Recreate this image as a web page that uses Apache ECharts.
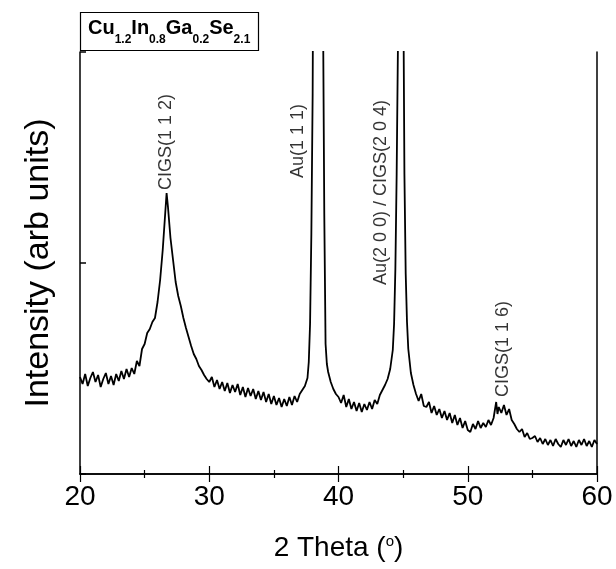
<!DOCTYPE html>
<html>
<head>
<meta charset="utf-8">
<script src="https://cdn.jsdelivr.net/npm/echarts@6/dist/echarts.min.js"></script>
<style>html,body{margin:0;padding:0;background:#fff}#c{width:616px;height:569px}</style>
</head>
<body>
<div id="c"></div>
<script>
// 2 Theta (degrees)
var twoTheta = [
20.0,20.2,20.4,20.6,20.8,21.0,21.2,21.4,21.6,21.8,22.0,22.2,22.4,22.6,22.8,23.0,23.2,23.4,23.6,23.8,
24.0,24.2,24.4,24.6,24.8,25.0,25.2,25.4,25.6,25.8,26.0,26.2,26.4,26.6,26.7,26.8,27.0,27.2,27.4,27.6,
27.8,28.0,28.2,28.4,28.6,28.8,29.0,29.2,29.4,29.6,29.8,30.0,30.2,30.4,30.6,30.8,31.0,31.2,31.4,31.6,
31.8,32.0,32.2,32.4,32.6,32.8,33.0,33.2,33.4,33.6,33.8,34.0,34.2,34.4,34.6,34.8,35.0,35.2,35.4,35.6,
35.8,36.0,36.2,36.4,36.6,36.8,37.0,37.2,37.4,37.6,37.7,37.8,37.9,38.0,38.1,38.2,38.3,38.4,38.5,38.6,
38.7,38.8,38.9,39.0,39.1,39.2,39.4,39.6,39.8,40.0,40.2,40.4,40.6,40.8,41.0,41.2,41.4,41.6,41.8,42.0,
42.2,42.4,42.6,42.8,43.0,43.2,43.4,43.6,43.8,44.0,44.2,44.3,44.4,44.5,44.6,44.7,44.8,44.9,45.0,45.1,
45.2,45.3,45.4,45.6,45.8,46.0,46.2,46.4,46.6,46.8,47.0,47.2,47.4,47.6,47.8,48.0,48.2,48.4,48.6,48.8,
49.0,49.2,49.4,49.6,49.8,50.0,50.2,50.4,50.6,50.8,51.0,51.2,51.4,51.6,51.8,52.0,52.2,52.3,52.4,52.6,
52.8,53.0,53.2,53.4,53.6,53.8,54.0,54.2,54.4,54.6,54.8,55.0,55.2,55.4,55.6,55.8,56.0,56.2,56.4,56.6,
56.8,57.0,57.2,57.4,57.6,57.8,58.0,58.2,58.4,58.6,58.8,59.0,59.2,59.4,59.6,59.8,60.0
];
// Intensity (arb units)
var intensity = [
97,90,100,88,96,102,92,99,87,95,101,90,98,89,100,93,103,95,105,97,
106,100,113,108,125,130,141,145,152,156,172,194,224,262,281,268,236,214,192,178,
168,156,146,137,128,120,115,108,104,99,95,92,97,87,94,85,92,83,91,81,
89,82,90,79,87,77,86,78,85,75,83,74,82,72,80,70,78,69,76,67,
75,68,77,69,78,72,80,84,88,96,112,150,240,380,700,900,1000,1000,950,850,
650,470,260,130,110,102,92,85,80,77,71,79,67,75,65,72,63,71,62,70,
64,72,65,74,70,79,84,89,95,105,124,150,205,300,430,720,1000,900,520,300,
200,152,125,101,89,80,73,80,68,67,72,61,68,59,65,56,63,54,61,51,
59,49,56,46,53,44,42,50,45,53,46,51,47,54,49,56,72,60,67,61,
69,59,65,54,50,45,42,45,37,41,35,36,38,32,36,30,35,29,34,28,
35,30,27,34,29,35,28,33,27,34,29,35,28,33,27,34,30
];
// Peak annotations: position (2 Theta, intensity at text base) and text
var peakLabelX = [26.67, 36.9, 43.26, 52.7];
var peakLabelY = [284, 296, 189, 77];
var peakLabelText = ['CIGS(1 1 2)', 'Au(1 1 1)', 'Au(2 0 0) / CIGS(2 0 4)', 'CIGS(1 1 6)'];
var xTicks = [20, 30, 40, 50, 60];

var lineData = twoTheta.map(function (x, i) { return [x, intensity[i]]; });
var labelData = peakLabelX.map(function (x, i) { return { value: [x, peakLabelY[i]], name: peakLabelText[i] }; });

var chart = echarts.init(document.getElementById('c'), null, { renderer: 'canvas' });
var FONT = 'Liberation Sans';
var axisCommon = {
  min: xTicks[0], max: xTicks[xTicks.length - 1], interval: 10,
  axisLine: { show: true, lineStyle: { color: '#000', width: 1.5 } },
  axisTick: { show: true, inside: true, length: 8, lineStyle: { color: '#000', width: 1.2 } },
  minorTick: { show: true, splitNumber: 2, length: 4, lineStyle: { color: '#000', width: 1.2 } },
  splitLine: { show: false }
};
chart.setOption({
  backgroundColor: '#fff',
  animation: false,
  title: {
    left: 80, top: 12,
    text: '{b|Cu}{s|1.2}{b|In}{s|0.8}{b|Ga}{s|0.2}{b|Se}{s|2.1}',
    borderColor: '#000', borderWidth: 1.2,
    padding: [6, 8, 5, 8],
    textStyle: {
      rich: {
        b: { fontFamily: FONT, fontWeight: 'bold', fontSize: 20, color: '#000', lineHeight: 28, verticalAlign: 'top' },
        s: { fontFamily: FONT, fontWeight: 'bold', fontSize: 12, color: '#000', lineHeight: 28, verticalAlign: 'bottom', padding: [8, 0, 0, 0] }
      }
    }
  },
  grid: { left: 80, right: 19, top: 52, bottom: 95, containLabel: false },
  xAxis: [
    Object.assign({}, axisCommon, {
      type: 'value', position: 'bottom',
      name: '2 Theta ({sup|o})', nameLocation: 'middle', nameGap: 60,
      nameTextStyle: { fontFamily: FONT, fontSize: 28, color: '#000',
        rich: { sup: { fontFamily: FONT, fontSize: 15, color: '#000', verticalAlign: 'top', padding: [0, 0, 12, 0] } } },
      axisLabel: { show: true, fontFamily: FONT, fontSize: 28, color: '#000', margin: 9 }
    }),
    Object.assign({}, axisCommon, {
      type: 'value', position: 'top',
      axisLabel: { show: false }
    })
  ],
  yAxis: [
    {
      type: 'value', position: 'left', min: 0, max: 422, interval: 211,
      name: 'Intensity (arb units)', nameLocation: 'middle', nameGap: 24, nameRotate: 90,
      nameTextStyle: { fontFamily: FONT, fontSize: 34, color: '#000' },
      axisLine: { show: true, lineStyle: { color: '#000', width: 1.5 } },
      axisTick: { show: true, inside: true, length: 6, lineStyle: { color: '#000', width: 1.5 } },
      axisLabel: { show: false },
      splitLine: { show: false }
    },
    {
      type: 'value', position: 'right', min: 0, max: 422, interval: 211,
      axisLine: { show: true, lineStyle: { color: '#000', width: 1.5 } },
      axisTick: { show: false },
      axisLabel: { show: false },
      splitLine: { show: false }
    }
  ],
  series: [
    {
      type: 'line', data: lineData, showSymbol: false, symbol: 'none',
      xAxisIndex: 0, yAxisIndex: 0, clip: true,
      lineStyle: { color: '#000', width: 1.8 }
    },
    {
      type: 'scatter', data: labelData, symbolSize: 0, xAxisIndex: 0, yAxisIndex: 0,
      label: {
        show: true, position: [0, 0], rotate: 90, align: 'left', verticalAlign: 'middle',
        formatter: function (p) { return p.name; },
        fontFamily: FONT, fontSize: 18, color: '#000'
      },
      emphasis: { disabled: true }, silent: true
    }
  ]
});
</script>
</body>
</html>
